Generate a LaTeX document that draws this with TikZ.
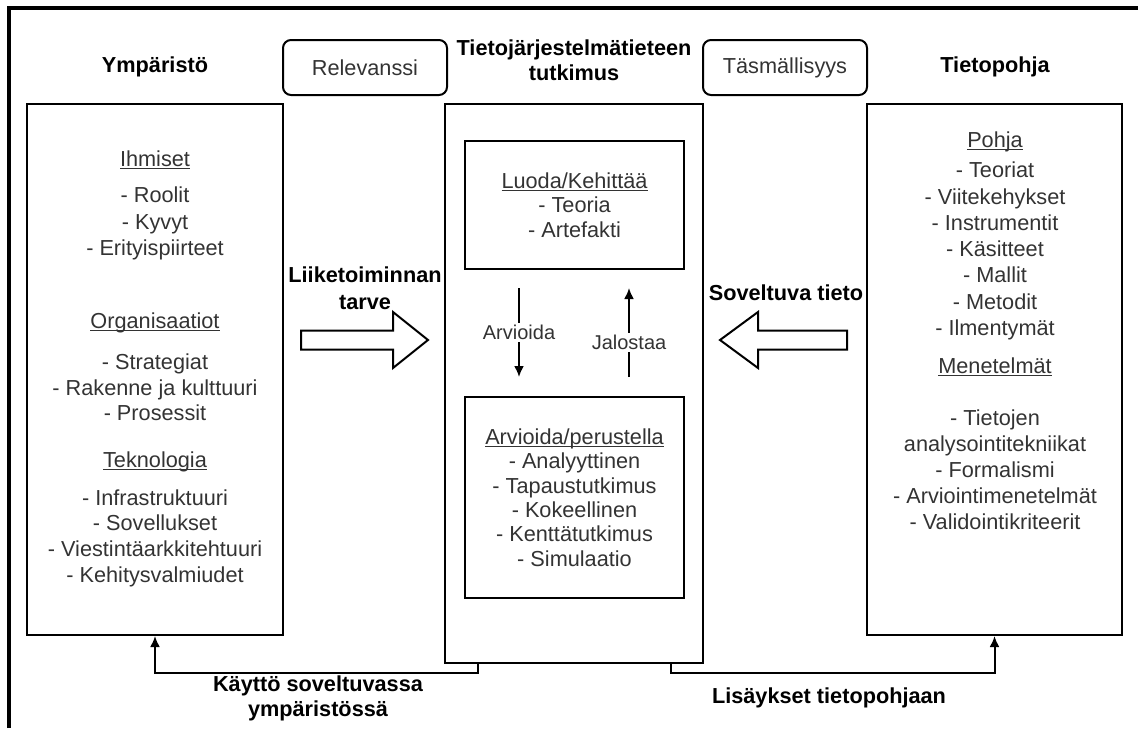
\documentclass[tikz,border=0pt]{standalone}
\usepackage{fontspec}
\setmainfont{Liberation Sans}
\usetikzlibrary{positioning}
\usetikzlibrary{arrows.meta}

\definecolor{teksti}{HTML}{333333}
% alleviivaus lahemmas tekstia
\newcommand{\alleviivaa}[1]{\setbox0\hbox{#1}\rlap{\rule[-1.3pt]{\wd0}{0.55pt}}\box0}

\begin{document}
\begin{tikzpicture}[x=0.5pt,y=-0.5pt,align=center,font=\fontsize{10.85}{13}\selectfont,
laatikko/.style={draw,line width=1pt,inner sep=0pt,minimum width=128pt,minimum height=265.5pt},
sisa/.style={draw,line width=1pt,inner sep=0pt,minimum width=109.5pt,text=teksti,font=\fontsize{10.85}{12.2}\selectfont},
pyorea/.style={draw,line width=1pt,rounded corners=4pt,minimum width=82pt,minimum height=27.5pt,text=teksti},
otsikko/.style={font=\fontsize{10.85}{12.5}\selectfont\bfseries},
lista/.style={text=teksti},
nuoli/.style={-{Latex[length=5.5pt,width=5pt]},line width=1pt},
yhteys/.style={-{Latex[length=5.5pt,width=5pt]},line width=1pt},
nimio/.style={fill=white,text=teksti,font=\fontsize{10}{12}\selectfont,inner sep=1pt},
isonuoli/.style={draw,line width=1pt,fill=white,line join=miter}
]
\useasboundingbox (0,0) rectangle (1138,728);
\draw[line width=2pt] (9,728) |- (1138,8);
%--
\node[otsikko](ympT) at (155,67){Ympäristö};
\node[pyorea](relev) at (365,67.5){Relevanssi};
\node[otsikko](tutkT) at (574,60){Tietojärjestelmätieteen\\tutkimus};
\node[pyorea](tasm) at (785,67.5){Täsmällisyys};
\node[otsikko](pohjaT) at (995,67){Tietopohja};
%--
\node[laatikko](ymp) at (155,369.5){};
\node[lista](ihm) at (155,160){\alleviivaa{Ihmiset}};
\node[lista,font=\fontsize{10.85}{13.2}\selectfont](ihmL) at (155,223.5){- Roolit\\- Kyvyt\\- Erityispiirteet};
\node[lista](org) at (155,323){\alleviivaa{Organisaatiot}};
\node[lista,font=\fontsize{10.85}{12.8}\selectfont](orgL) at (155,387.5){- Strategiat\\- Rakenne ja kulttuuri\\- Prosessit};
\node[lista](tek) at (155,462){\alleviivaa{Teknologia}};
\node[lista,font=\fontsize{10.85}{12.8}\selectfont](tekL) at (155,538){- Infrastruktuuri\\- Sovellukset\\- Viestintäarkkitehtuuri\\- Kehitysvalmiudet};
%--
\node[laatikko,minimum width=129pt,minimum height=279.5pt](tutk) at (574,383.5){};
\node[sisa,minimum height=64pt](luoda) at (574.5,205){\alleviivaa{Luoda/Kehittää}\\- Teoria\\- Artefakti};
\node[sisa,minimum height=100.5pt](arvioi) at (574.5,497.5){\alleviivaa{Arvioida/perustella}\\- Analyyttinen\\- Tapaustutkimus\\- Kokeellinen\\- Kenttätutkimus\\- Simulaatio};
\draw[nuoli] ([xshift=-27.75pt,yshift=-9pt]luoda.south) -- node[nimio]{Arvioida} ([xshift=-27.75pt,yshift=9.5pt]arvioi.north);
\draw[nuoli] ([xshift=27.25pt,yshift=9.5pt]arvioi.north) -- node[nimio,pos=0.39]{Jalostaa} ([xshift=27.25pt,yshift=-9pt]luoda.south);
%--
\node[laatikko,minimum width=127.5pt](pohja) at (994.5,369.5){};
\node[lista](poh) at (995,142){\alleviivaa{Pohja}};
\node[lista,font=\fontsize{10.85}{13.15}\selectfont](pohL) at (995,251){- Teoriat\\- Viitekehykset\\- Instrumentit\\- Käsitteet\\- Mallit\\- Metodit\\- Ilmentymät};
\node[lista](men) at (995,367){\alleviivaa{Menetelmät}};
\node[lista,font=\fontsize{10.85}{13}\selectfont](menL) at (995,470){- Tietojen\\analysointitekniikat\\- Formalismi\\- Arviointimenetelmät\\- Validointikriteerit};
%----
\draw[isonuoli] (301,330.5) -- (393,330.5) -- (393,312) -- (428,340) -- (393,368) -- (393,349.5) -- (301,349.5) -- cycle;
\node[otsikko,font=\fontsize{10.85}{13.5}\selectfont\bfseries](tarve) at (365,288.5){Liiketoiminnan\\tarve};
\draw[isonuoli] (720,340) -- (758,312) -- (758,330.5) -- (847,330.5) -- (847,349.5) -- (758,349.5) -- (758,368) -- cycle;
\node[otsikko](tieto) at (786,293){Soveltuva tieto};
%----
\draw[yhteys] ([xshift=-48pt]tutk.south) -- ++(0,-4.5pt) -| (ymp.south);
\node[otsikko](kaytto) at (318,698){Käyttö soveltuvassa\\ympäristössä};
\draw[yhteys] ([xshift=48.5pt]tutk.south) -- ++(0,-4.5pt) -| (pohja.south);
\node[otsikko](lisays) at (829,698){Lisäykset tietopohjaan};
\end{tikzpicture}
\end{document}
